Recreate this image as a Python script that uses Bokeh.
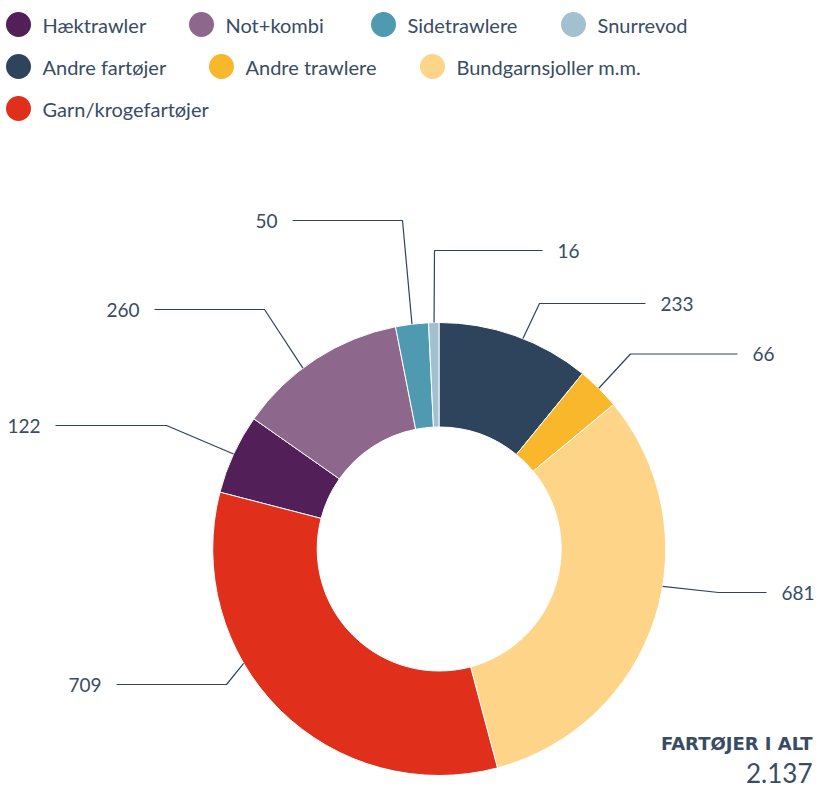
import math
from bokeh.plotting import figure
from bokeh.models import Range1d, ColumnDataSource
from bokeh.core.properties import value
from bokeh.embed import file_html
from bokeh.resources import INLINE

# ---------------- data ----------------
categories = ["Hæktrawler", "Not+kombi", "Sidetrawlere", "Snurrevod",
              "Andre fartøjer", "Andre trawlere", "Bundgarnsjoller m.m.", "Garn/krogefartøjer"]
counts = [122, 260, 50, 16, 233, 66, 681, 709]
total_title = "FARTØJER I ALT"
first_at_top = "Andre fartøjer"

# ---------------- styles ----------------
colors = ["#521f59", "#8d688c", "#4f9ab1", "#a2c1d0",
          "#2e445c", "#f9b72c", "#fed488", "#e0301c"]
text_color = "#384c63"
line_color = "#2e445c"
FONT = "Lato"

W, H = 815, 789


def X(px):
    return px


def Y(py):
    return H - py


p = figure(width=W, height=H, x_range=Range1d(0, W), y_range=Range1d(0, H),
           output_backend="svg", toolbar_location=None, min_border=0,
           x_axis_type=None, y_axis_type=None)
p.grid.visible = False
p.outline_line_color = None
p.background_fill_color = "white"

# ---------------- donut ----------------
cx, cy = X(438.7), Y(548.5)
R_out, R_in = 226.5, 122
total = sum(counts)
offset = sum(counts[:categories.index(first_at_top)])
starts, ends = [], []
cum = 0
for c in counts:
    f0 = ((cum - offset) % total) / total
    f1 = f0 + c / total
    starts.append(math.pi / 2 - 2 * math.pi * f0)
    ends.append(math.pi / 2 - 2 * math.pi * f1)
    cum += c

src = ColumnDataSource(dict(start=starts, end=ends, color=colors, cat=categories, n=counts))
p.annular_wedge(x=cx, y=cy, inner_radius=R_in, outer_radius=R_out,
                start_angle="start", end_angle="end", direction="clock",
                fill_color="color", line_color="white", line_width=1, source=src)

# ---------------- data labels (layout) ----------------
# category: (connector angle clockwise from top [deg], elbow page x, elbow page y, line end page x)
label_layout = {
    "Andre fartøjer": (21.7, 539, 303, 645),
    "Andre trawlere": (44.8, 630, 353.5, 737),
    "Bundgarnsjoller m.m.": (99.5, 718, 592, 766),
    "Garn/krogefartøjer": (239.7, 226, 684, 116),
    "Hæktrawler": (294.8, 166, 425, 55),
    "Not+kombi": (323.0, 264, 309, 154),
    "Sidetrawlere": (353.1, 402, 220, 292),
    "Snurrevod": (358.7, 434, 250, 542),
}
xs, ys = [], []
lx, ly, lt, la = [], [], [], []
for cat, n in zip(categories, counts):
    ang, ex, ey, endx = label_layout[cat]
    a = math.radians(ang)
    sx = cx + R_out * math.sin(a)
    sy = cy + R_out * math.cos(a)
    xs.append([sx, X(ex), X(endx)])
    ys.append([sy, Y(ey), Y(ey)])
    right = endx > ex
    lx.append(X(endx) + (15 if right else -15))
    ly.append(Y(ey))
    lt.append(str(n))
    la.append("left" if right else "right")

p.multi_line(xs=xs, ys=ys, line_color=line_color, line_width=1.2)
p.text(x=lx, y=ly, text=lt, text_align=la, text_baseline="middle",
       text_font=value(FONT), text_font_size=value("19px"), text_color=text_color)

# ---------------- legend (manual flow layout) ----------------
# circle centre page x and row for each legend item
legend_layout = [(18, 0), (201, 0), (383, 0), (573, 0),
                 (18, 1), (221, 1), (432, 1),
                 (18, 2)]
row_y = [24, 66, 108]
gx = [X(lx_) for lx_, r in legend_layout]
gy = [Y(row_y[r]) for lx_, r in legend_layout]
p.scatter(x=gx, y=gy, size=25, marker="circle", fill_color=colors, line_color=None)
p.text(x=[g + 24 for g in gx], y=gy, text=categories, text_align="left",
       text_baseline="middle", text_font=value(FONT), text_font_size=value("20px"),
       text_color=text_color)

# ---------------- total ----------------
total_str = f"{total:,}".replace(",", ".")
p.text(x=[X(812)], y=[Y(743)], text=[total_title], text_align="right",
       text_baseline="middle", text_font=value("DejaVu Sans"), text_font_size=value("18px"),
       text_font_style="bold", text_color=text_color)
p.text(x=[X(812)], y=[Y(772)], text=[total_str], text_align="right",
       text_baseline="middle", text_font=value(FONT), text_font_size=value("26px"),
       text_color=text_color)

open("out.html", "w").write(file_html(p, INLINE))
